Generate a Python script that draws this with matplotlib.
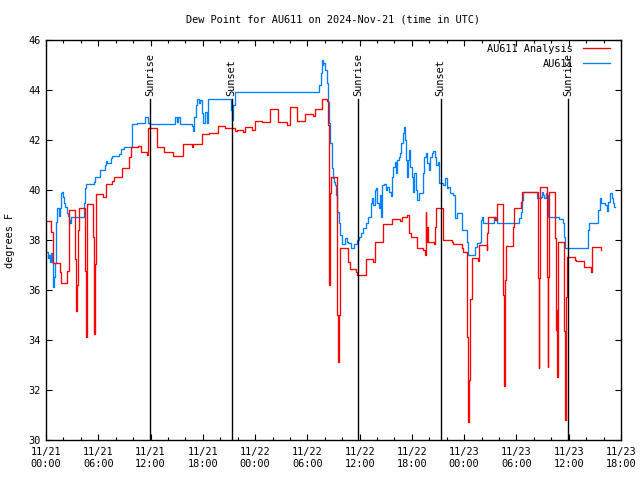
import matplotlib
matplotlib.use("Agg")
import matplotlib.pyplot as plt
from matplotlib.ticker import MultipleLocator

# ---- data (time in hours since 2024-11-21 00:00 UTC, dew point in F) ----
analysis_t = [0.0, 0.61, 0.77, 1.61, 1.76, 2.44, 2.61, 2.67, 3.36, 3.46, 3.55, 3.71, 3.82,
              4.51, 4.55, 4.70, 5.43, 5.55, 5.63, 5.77, 6.58, 6.89, 7.58, 7.81, 8.72, 9.56,
              9.79, 10.56, 10.87, 11.56, 11.71, 12.71, 13.54, 14.58, 15.69, 16.72, 16.87,
              17.87, 18.71, 19.78, 20.55, 21.69, 21.89, 22.65, 22.84, 23.61, 23.99, 24.76,
              25.71, 26.66, 27.63, 28.01, 28.78, 29.73, 30.68, 30.88, 31.65, 32.22, 32.40,
              32.50, 32.62, 32.68, 33.44, 33.55, 33.62, 33.75, 34.63, 34.89, 35.58, 35.73,
              36.70, 37.50, 37.76, 38.72, 39.68, 40.63, 40.83, 41.47, 41.70, 41.90, 42.55,
              43.31, 43.50, 43.60, 43.66, 43.77, 43.84, 44.57, 44.65, 44.77, 45.53, 45.60,
              46.57, 46.75, 47.72, 47.90, 48.36, 48.45, 48.55, 48.70, 48.87, 49.62, 49.74,
              50.59, 50.66, 50.77, 51.54, 51.73, 52.49, 52.60, 52.66, 52.80, 53.64, 53.75,
              54.49, 54.60, 55.48, 56.51, 56.55, 56.62, 56.70, 57.54, 57.60, 57.66, 57.74,
              58.46, 58.57, 58.63, 58.69, 58.75, 58.80, 59.46, 59.57, 59.66, 59.78, 60.72,
              60.85, 61.75, 62.59, 62.65, 62.71, 63.67, 63.75]
analysis_v = [38.75, 38.3, 37.08, 36.7, 36.28, 36.76, 37.7, 39.2, 37.24, 35.16, 36.2, 38.4, 39.28,
              36.76, 34.12, 39.44, 38.1, 34.24, 37.04, 39.84, 39.72, 40.24, 40.36, 40.52, 40.88, 41.32,
              41.72, 41.76, 41.52, 41.4, 42.48, 41.72, 41.5, 41.37, 41.84, 41.72, 41.84,
              42.23, 42.27, 42.57, 42.48, 42.37, 42.4, 42.31, 42.53, 42.4, 42.76, 42.7,
              43.24, 42.73, 42.6, 43.33, 42.76, 43.04, 42.95, 43.24, 43.63, 43.55, 42.6,
              36.2, 39.88, 40.52, 35.0, 33.13, 35.0, 37.67, 37.13, 36.84, 36.73, 36.6,
              37.23, 37.13, 37.93, 38.63, 38.83, 38.77, 38.93, 39.0, 38.27, 38.1, 37.67,
              37.6, 37.4, 39.13, 37.9, 38.53, 37.9, 37.83, 38.53, 39.27, 38.67, 38.0,
              37.93, 37.83, 37.67, 37.53, 34.13, 30.73, 32.4, 35.64, 37.27, 37.16, 37.8,
              37.6, 38.27, 38.93, 38.8, 39.43, 35.8, 32.16, 36.4, 37.77, 38.53, 39.27,
              39.53, 39.9, 39.93, 36.47, 32.87, 36.47, 40.1, 36.53, 32.9, 36.53, 39.93,
              38.07, 34.4, 35.2, 32.5, 35.2, 37.9, 34.37, 30.8, 35.73, 37.33, 37.2,
              37.16, 36.9, 36.7, 36.9, 37.73, 37.6, 37.6]

station_t = [0.0, 0.23, 0.34, 0.46, 0.54, 0.69, 0.80, 0.92, 1.07, 1.18, 1.30, 1.53, 1.61, 1.69,
             1.80, 1.92, 2.07, 2.22, 2.38, 2.53, 2.67, 2.75, 2.84, 4.36, 4.44, 4.59, 5.51, 5.66,
             6.20, 6.74, 6.85, 6.97, 7.43, 7.61, 8.38, 8.57, 8.95, 9.84, 10.41, 11.36, 11.74,
             11.94, 14.81, 15.00, 15.15, 15.38, 16.72, 16.91, 17.02, 17.22, 17.37, 17.53, 17.68,
             17.87, 17.99, 18.25, 18.45, 18.63, 21.20, 21.38, 21.50, 21.69, 22.30, 31.37, 31.53,
             31.65, 31.76, 31.83, 32.02, 32.22, 32.33, 32.45, 32.60, 32.79, 32.91, 33.06, 33.17,
             33.29, 33.44, 33.63, 33.75, 33.94, 34.36, 34.52, 34.70, 34.97, 35.35, 35.73, 35.96,
             36.16, 36.35, 36.73, 37.00, 37.27, 37.39, 37.57, 37.76, 37.88, 38.03, 38.19, 38.34,
             38.45, 38.60, 38.80, 39.03, 39.18, 39.41, 39.57, 39.72, 39.86, 40.06, 40.17, 40.32,
             40.48, 40.63, 40.78, 40.94, 41.06, 41.17, 41.29, 41.40, 41.52, 41.67, 41.82, 41.98,
             42.13, 42.27, 42.44, 42.62, 42.78, 43.24, 43.39, 43.58, 43.77, 43.93, 44.08, 44.27,
             44.46, 44.65, 44.77, 45.03, 45.14, 45.60, 45.80, 45.99, 46.18, 46.37, 46.68, 46.95,
             47.14, 47.78, 48.36, 48.48, 49.24, 49.51, 49.82, 49.93, 50.08, 50.20, 51.46, 51.62,
             51.73, 54.33, 54.49, 54.60, 54.72, 56.32, 56.78, 56.97, 57.08, 57.20, 57.36, 57.47,
             57.58, 57.66, 58.88, 59.31, 59.46, 59.57, 62.25, 62.36, 63.40, 63.59, 63.71, 64.17,
             64.36, 64.55, 64.75, 64.94, 65.12, 65.23, 65.30]
station_v = [37.5, 37.27, 37.4, 37.1, 37.48, 37.13, 36.13, 36.53, 37.08, 38.73, 39.27, 38.96, 39.29, 39.89,
             39.93, 39.7, 39.49, 39.33, 39.09, 38.96, 38.8, 38.69, 38.93, 39.47, 40.07, 40.23, 40.33, 40.51,
             40.8, 41.0, 41.16, 41.07, 41.27, 41.37, 41.44, 41.63, 41.71, 42.63, 42.67, 42.9, 42.67,
             42.63, 42.9, 42.73, 42.9, 42.63, 42.56, 42.37, 42.93, 43.4, 43.63, 43.47, 43.6,
             43.09, 42.67, 43.13, 42.67, 43.63, 43.2, 42.8, 43.4, 43.9, 43.93, 44.2, 44.67,
             45.2, 45.0, 45.07, 44.8, 44.27, 43.53, 42.67, 41.87, 40.87, 40.47, 40.33, 40.2,
             39.8, 39.13, 38.67, 38.2, 37.83, 38.07, 37.93, 37.87, 37.67, 37.83, 38.0, 38.13,
             38.27, 38.47, 38.67, 38.93, 39.47, 39.67, 39.4, 40.0, 40.07, 39.47, 39.27, 39.8,
             38.93, 40.2, 40.24, 40.0, 40.13, 39.93, 39.76, 40.53, 40.93, 41.13, 40.67, 41.2,
             41.33, 41.49, 41.87, 42.27, 42.53, 42.0, 41.2, 40.53, 41.2, 41.6, 40.93, 40.53,
             39.93, 40.67, 40.0, 39.6, 39.87, 40.67, 41.33, 41.47, 41.07, 40.8, 41.33, 41.47,
             41.57, 41.33, 41.0, 41.13, 40.27, 40.2, 40.47, 40.07, 40.13, 39.87, 39.8, 38.87,
             39.07, 38.4, 37.93, 37.4, 37.7, 37.87, 37.93, 38.8, 38.9, 38.67, 38.9, 38.8,
             38.67, 38.87, 39.13, 39.6, 39.9, 39.67, 39.73, 39.9, 39.8, 39.67, 39.87, 39.8,
             39.4, 38.9, 38.83, 38.67, 38.13, 37.67, 38.4, 38.67, 39.2, 39.67, 39.47, 39.4,
             39.17, 39.53, 39.87, 39.67, 39.47, 39.3, 39.3]

sun_t = [11.94, 21.30, 35.85, 45.30, 59.95]
sun_labels = ["Sunrise", "Sunset", "Sunrise", "Sunset", "Sunrise"]
sun_top = 43.64

xtick_hours = [0, 6, 12, 18, 24, 30, 36, 42, 48, 54, 60, 66]
xtick_labels = ["11/21\n00:00", "11/21\n06:00", "11/21\n12:00", "11/21\n18:00",
                "11/22\n00:00", "11/22\n06:00", "11/22\n12:00", "11/22\n18:00",
                "11/23\n00:00", "11/23\n06:00", "11/23\n12:00", "11/23\n18:00"]
yticks = [30, 32, 34, 36, 38, 40, 42, 44, 46]

title = "Dew Point for AU611 on 2024-Nov-21 (time in UTC)"
FONT = "DejaVu Sans Mono"
FS = 7.4

fig = plt.figure(figsize=(6.4, 4.8), dpi=100)
ax = fig.add_axes([46/640, 40/480, 575/640, 400/480])

ax.plot(station_t, station_v, drawstyle="steps-post", color="#0080ff", lw=0.95, label="AU611")
ax.plot(analysis_t, analysis_v, drawstyle="steps-post", color="#ff0000", lw=0.95, label="AU611 Analysis")

for t, lab in zip(sun_t, sun_labels):
    ax.plot([t, t], [30, sun_top], color="black", lw=1.0)
    ax.text(t, sun_top + 0.12, lab, rotation=90, ha="center", va="bottom",
            family=FONT, fontsize=FS)

ax.set_xlim(0, 66)
ax.set_ylim(30, 46)
ax.set_xticks(xtick_hours)
ax.set_xticklabels(xtick_labels, family=FONT, fontsize=FS)
ax.xaxis.set_minor_locator(MultipleLocator(2))
ax.set_yticks(yticks)
ax.set_yticklabels([str(v) for v in yticks], family=FONT, fontsize=FS)
ax.tick_params(axis="both", which="major", direction="in", length=4.5, width=0.8,
               top=True, right=True, color="black")
ax.tick_params(axis="x", which="major", pad=5)
ax.tick_params(axis="y", which="major", pad=4)
ax.tick_params(axis="x", which="minor", direction="in", length=2.5, width=0.8, top=True)
for s in ax.spines.values():
    s.set_linewidth(1.0)

h, l = ax.get_legend_handles_labels()
leg = ax.legend(h[::-1], l[::-1], loc="upper right", bbox_to_anchor=(0.981, 0.99),
                borderaxespad=0, borderpad=0, frameon=False, markerfirst=False,
                handlelength=2.6, handletextpad=1.0, labelspacing=0.45,
                prop={"family": FONT, "size": FS})

fig.text(10/640, 0.5, "degrees F", rotation=90, ha="center", va="center",
         family=FONT, fontsize=FS)
fig.text(333/640, 1 - 19/480, title, ha="center", va="center", family=FONT, fontsize=FS)

fig.savefig("out.png", dpi=100)
